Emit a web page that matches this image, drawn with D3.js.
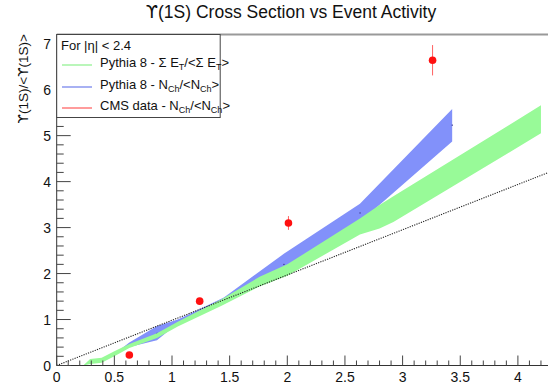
<!DOCTYPE html>
<html><head><meta charset="utf-8">
<script src="https://cdn.jsdelivr.net/npm/d3@7"></script>
<style>body{margin:0;background:#fff}svg{display:block;font-family:"Liberation Sans",Arial,sans-serif}.ups{font-family:"DejaVu Sans"}</style>
</head><body><div id="c"></div>
<script>
// ---- data ----
const cmsX   = [0.63, 1.24, 2.01, 3.26];
const cmsY   = [0.23, 1.40, 3.10, 6.64];
const cmsErr = [0.04, 0.06, 0.15, 0.33];

const nchX     = [0.48, 0.63, 0.87, 1.05, 1.45, 1.97, 2.63, 3.43];
const nchLow   = [0.19, 0.40, 0.55, 0.92, 1.38, 1.97, 3.12, 4.87];
const nchHigh  = [0.21, 0.50, 0.86, 1.00, 1.48, 2.43, 3.52, 5.58];
const nchMarkX = [0.87, 1.97, 2.63, 3.43];
const nchMarkY = [0.70, 2.20, 3.32, 5.23];

const etX    = [0.23, 0.29, 0.39, 0.50, 0.63, 0.87, 1.05, 1.43, 1.76, 2.00, 2.63, 2.80, 2.92, 4.20];
const etLow  = [0.00, 0.03, 0.06, 0.20, 0.38, 0.60, 0.85, 1.30, 1.72, 1.95, 2.85, 2.98, 3.12, 5.05];
const etHigh = [0.00, 0.14, 0.17, 0.31, 0.47, 0.70, 0.95, 1.44, 1.93, 2.20, 3.20, 3.49, 3.68, 5.66];

const lineX = [0, 4.5];
const lineY = [0, 4.43];

const xTicks = [0, 0.5, 1, 1.5, 2, 2.5, 3, 3.5, 4];
const yTicks = [0, 1, 2, 3, 4, 5, 6, 7];

const W = 548, H = 387;
const svg = d3.select("#c").append("svg").attr("width", W).attr("height", H);

const x = d3.scaleLinear().domain([0, 4.3]).range([56.7, 56.7 + 4.3 * 115.3]);
const y = d3.scaleLinear().domain([0, 7.2]).range([365.5, 34.5]);

svg.append("defs").append("clipPath").attr("id", "pc")
  .append("rect").attr("x", x(0)).attr("y", y(7.2)).attr("width", W).attr("height", y(0) - y(7.2));

const plot = svg.append("g").attr("clip-path", "url(#pc)");

const area = (xs, lo, hi) => d3.area().x((d, i) => x(xs[i])).y0((d, i) => y(lo[i])).y1((d, i) => y(hi[i]))(xs);

plot.append("path").attr("d", area(nchX, nchLow, nchHigh)).attr("fill", "rgb(130,145,250)");
plot.selectAll(".nm").data(nchMarkX).join("rect")
  .attr("x", (d) => x(d) - 0.5).attr("y", (d, i) => y(nchMarkY[i]) - 0.5)
  .attr("width", 1.2).attr("height", 1.2).attr("fill", "#33338a");
plot.append("path").attr("d", area(etX, etLow, etHigh)).attr("fill", "rgb(152,250,152)");

plot.append("path")
  .attr("d", d3.line().x((d, i) => x(lineX[i])).y((d, i) => y(lineY[i]))(lineX))
  .attr("stroke", "#222").attr("stroke-width", 1.1).attr("stroke-dasharray", "1.2,1.2").attr("fill", "none");

// CMS points
plot.selectAll(".eb").data(cmsX).join("line")
  .attr("x1", (d) => x(d)).attr("x2", (d) => x(d))
  .attr("y1", (d, i) => y(cmsY[i] - cmsErr[i])).attr("y2", (d, i) => y(cmsY[i] + cmsErr[i]))
  .attr("stroke", "#ff6060").attr("stroke-width", 1);
plot.selectAll(".pt").data(cmsX).join("circle")
  .attr("cx", (d) => x(d)).attr("cy", (d, i) => y(cmsY[i])).attr("r", 3.8).attr("fill", "#ff1010");

// axes
const ax = svg.append("g");
ax.append("line").attr("x1", x(0)).attr("x2", W).attr("y1", y(0)).attr("y2", y(0)).attr("stroke", "#333");
ax.append("line").attr("x1", x(0)).attr("x2", x(0)).attr("y1", y(0)).attr("y2", y(7.2)).attr("stroke", "#333");
ax.append("line").attr("x1", x(0)).attr("x2", W).attr("y1", y(7.2)).attr("y2", y(7.2)).attr("stroke", "#999").attr("stroke-width", 2);

const xMinor = d3.range(0, 4.31, 0.1).filter(v => Math.abs(v * 2 - Math.round(v * 2)) > 1e-6);
ax.selectAll(".xm").data(xMinor).join("line")
  .attr("x1", d => x(d)).attr("x2", d => x(d)).attr("y1", y(0)).attr("y2", y(0) - 5).attr("stroke", "#444");
ax.selectAll(".xM").data(xTicks).join("line")
  .attr("x1", d => x(d)).attr("x2", d => x(d)).attr("y1", y(0)).attr("y2", y(0) - 10).attr("stroke", "#444");
ax.selectAll(".xl").data(xTicks).join("text")
  .attr("x", d => x(d)).attr("y", 382).attr("text-anchor", "middle").attr("font-size", 14).attr("fill", "#111")
  .text(d => d3.format("~g")(d));

const yMinor = d3.range(0, 7.21, 0.2).filter(v => Math.abs(v - Math.round(v)) > 1e-6);
ax.selectAll(".ym").data(yMinor).join("line")
  .attr("x1", x(0)).attr("x2", x(0) + 7).attr("y1", d => y(d)).attr("y2", d => y(d)).attr("stroke", "#444");
ax.selectAll(".yM").data(yTicks).join("line")
  .attr("x1", x(0)).attr("x2", x(0) + 14).attr("y1", d => y(d)).attr("y2", d => y(d)).attr("stroke", "#444");
ax.selectAll(".yl").data(yTicks).join("text")
  .attr("x", 51).attr("y", d => y(d) + 5).attr("text-anchor", "end").attr("font-size", 14).attr("fill", "#111")
  .text(d => d);

// title
const tt = svg.append("text").attr("x", 291).attr("y", 18).attr("text-anchor", "middle").attr("font-size", 17.5).attr("fill", "#111");
tt.append("tspan").attr("class", "ups").text("ϒ");
tt.append("tspan").text("(1S) Cross Section vs Event Activity");
// y title
const yt = svg.append("text").attr("transform", "translate(28,34) rotate(-90)").attr("text-anchor", "end").attr("font-size", 13.5).attr("fill", "#111");
yt.append("tspan").attr("class", "ups").text("ϒ");
yt.append("tspan").text("(1S)/<");
yt.append("tspan").attr("class", "ups").text("ϒ");
yt.append("tspan").text("(1S)>");

// legend
const lg = svg.append("g");
lg.append("rect").attr("x", x(0)).attr("y", 34.5).attr("width", 163.5).attr("height", 83)
  .attr("fill", "#fff").attr("stroke", "#444").attr("stroke-width", 1);
lg.append("text").attr("x", 61).attr("y", 50).attr("font-size", 13).attr("fill", "#111").text("For |η| < 2.4");
const legItems = [
  {c: "rgb(140,240,140)", parts: [["Pythia 8 - Σ E"], ["T", 1], ["/<Σ E"], ["T", 1], [">"]]},
  {c: "rgb(110,125,235)", parts: [["Pythia 8 - N"], ["Ch", 1], ["/<N"], ["Ch", 1], [">"]]},
  {c: "rgb(255,90,90)",  parts: [["CMS data - N"], ["Ch", 1], ["/<N"], ["Ch", 1], [">"]]}
];
const lyL = [65, 87, 108];
legItems.forEach((it, i) => {
  lg.append("line").attr("x1", 62).attr("x2", 92).attr("y1", lyL[i]).attr("y2", lyL[i]).attr("stroke", it.c).attr("stroke-width", 1.2);
  const t = lg.append("text").attr("x", 100).attr("y", lyL[i] + 5).attr("font-size", 13).attr("fill", "#111");
  it.parts.forEach(p => {
    if (p[1]) t.append("tspan").attr("font-size", 9).attr("dy", 3).text(p[0]);
    else t.append("tspan").attr("dy", t.selectAll("tspan").size() ? -3 : 0).text(p[0]);
  });
});
</script></body></html>
